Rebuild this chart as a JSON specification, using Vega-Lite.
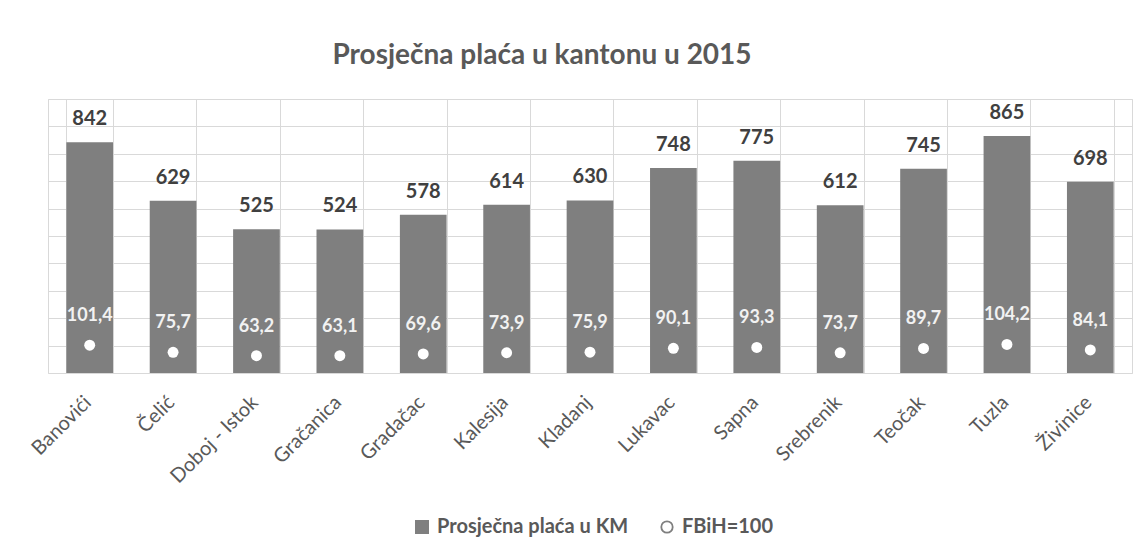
{
  "$schema": "https://vega.github.io/schema/vega-lite/v6.json",
  "width": 1084,
  "height": 274,
  "autosize": {"type": "none"},
  "padding": {"left": 48, "top": 99, "right": 14, "bottom": 182},
  "background": "white",
  "config": {
    "locale": {"number": {"decimal": ",", "thousands": ".", "grouping": [3], "currency": ["", ""]}},
    "view": {"stroke": "#d9d9d9", "strokeWidth": 1},
    "font": "Lato"
  },
  "title": {
    "text": "Prosječna plaća u kantonu u 2015",
    "font": "Lato",
    "fontSize": 28,
    "fontWeight": "bold",
    "color": "#595959",
    "anchor": "middle",
    "dx": -48,
    "offset": 29
  },
  "data": {
    "values": [
      {"opcina": "Banovići", "placa": 842, "indeks": 101.4},
      {"opcina": "Čelić", "placa": 629, "indeks": 75.7},
      {"opcina": "Doboj - Istok", "placa": 525, "indeks": 63.2},
      {"opcina": "Gračanica", "placa": 524, "indeks": 63.1},
      {"opcina": "Gradačac", "placa": 578, "indeks": 69.6},
      {"opcina": "Kalesija", "placa": 614, "indeks": 73.9},
      {"opcina": "Kladanj", "placa": 630, "indeks": 75.9},
      {"opcina": "Lukavac", "placa": 748, "indeks": 90.1},
      {"opcina": "Sapna", "placa": 775, "indeks": 93.3},
      {"opcina": "Srebrenik", "placa": 612, "indeks": 73.7},
      {"opcina": "Teočak", "placa": 745, "indeks": 89.7},
      {"opcina": "Tuzla", "placa": 865, "indeks": 104.2},
      {"opcina": "Živinice", "placa": 698, "indeks": 84.1}
    ]
  },
  "encoding": {
    "x": {
      "field": "opcina",
      "type": "nominal",
      "sort": null,
      "scale": {"paddingInner": 0.44, "paddingOuter": 0.22},
      "axis": {
        "title": null,
        "domain": false,
        "ticks": false,
        "grid": true,
        "gridColor": "#d9d9d9",
        "gridWidth": 1,
        "tickBand": "extent",
        "labelAngle": -45,
        "labelAlign": "right",
        "labelBaseline": "middle",
        "labelPadding": 26,
        "labelOffset": -2,
        "labelFont": "Lato",
        "labelFontSize": 20,
        "labelColor": "#595959",
        "labelLimit": 300
      }
    }
  },
  "layer": [
    {
      "mark": {"type": "bar", "color": "#7f7f7f"},
      "encoding": {
        "y": {
          "field": "placa",
          "type": "quantitative",
          "scale": {"domain": [0, 1000], "nice": false},
          "axis": {"title": null, "labels": false, "ticks": false, "domain": false, "grid": true, "gridColor": "#d9d9d9", "gridWidth": 1, "values": [0, 100, 200, 300, 400, 500, 600, 700, 800, 900, 1000]}
        },
        "color": {
          "datum": "Prosječna plaća u KM",
          "scale": {"domain": ["Prosječna plaća u KM", "FBiH=100"], "range": ["#7f7f7f", "#ffffff"]},
          "legend": {
            "title": null,
            "orient": "none",
            "legendX": 364,
            "legendY": 418,
            "direction": "horizontal",
            "labelFont": "Lato",
            "labelFontSize": 20,
            "labelFontWeight": "bold",
            "labelColor": "#595959",
            "labelLimit": 400,
            "symbolSize": 196,
            "columnPadding": 28,
            "labelOffset": 5,
            "encode": {
              "symbols": {
                "update": {
                  "shape": {"signal": "datum.value === 'FBiH=100' ? 'circle' : 'square'"},
                  "size": {"signal": "datum.value === 'FBiH=100' ? 130 : 196"},
                  "fill": {"signal": "datum.value === 'FBiH=100' ? '#ffffff' : '#7f7f7f'"},
                  "stroke": {"value": "#7f7f7f"},
                  "strokeWidth": {"signal": "datum.value === 'FBiH=100' ? 1.8 : 0"},
                  "opacity": {"value": 1}
                }
              }
            }
          }
        }
      }
    },
    {
      "mark": {"type": "text", "dy": -17, "baseline": "alphabetic", "font": "Lato", "fontSize": 20, "fontWeight": "bold", "color": "#404040"},
      "encoding": {
        "y": {
          "field": "placa",
          "type": "quantitative",
          "axis": {"title": null, "labels": false, "ticks": false, "domain": false, "grid": true, "gridColor": "#d9d9d9", "gridWidth": 1, "values": [0, 100, 200, 300, 400, 500, 600, 700, 800, 900, 1000]}
        },
        "text": {"field": "placa", "type": "quantitative", "format": "d"}
      }
    },
    {
      "mark": {"type": "point", "filled": true, "shape": "circle", "size": 120, "opacity": 1},
      "encoding": {
        "y": {
          "field": "indeks",
          "type": "quantitative",
          "axis": {"title": null, "labels": false, "ticks": false, "domain": false, "grid": true, "gridColor": "#d9d9d9", "gridWidth": 1, "values": [0, 100, 200, 300, 400, 500, 600, 700, 800, 900, 1000]}
        },
        "color": {"datum": "FBiH=100"}
      }
    },
    {
      "mark": {"type": "text", "dy": -24, "baseline": "alphabetic", "font": "Lato", "fontSize": 18, "fontWeight": "bold", "color": "#f2f2f2"},
      "encoding": {
        "y": {
          "field": "indeks",
          "type": "quantitative",
          "axis": {"title": null, "labels": false, "ticks": false, "domain": false, "grid": true, "gridColor": "#d9d9d9", "gridWidth": 1, "values": [0, 100, 200, 300, 400, 500, 600, 700, 800, 900, 1000]}
        },
        "text": {"field": "indeks", "type": "quantitative", "format": ".1f"}
      }
    }
  ]
}
